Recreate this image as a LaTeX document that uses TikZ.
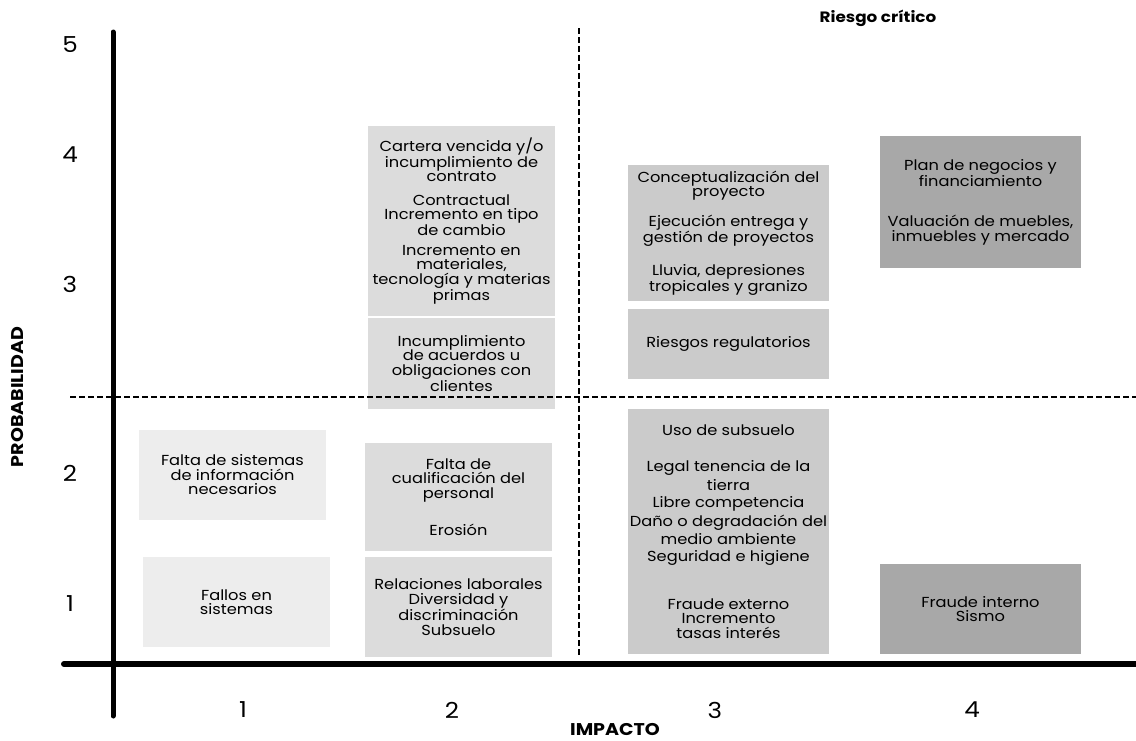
\documentclass[tikz,border=0pt]{standalone}
\usepackage{fontspec}
\setmainfont{Poppins}[FakeStretch=1.12]
\usepackage{tikz}
\usetikzlibrary{positioning}

\definecolor{nivelbajo}{HTML}{EDEDED}
\definecolor{nivelmedio}{HTML}{DCDCDC}
\definecolor{nivelalto}{HTML}{CBCBCB}
\definecolor{nivelcritico}{HTML}{A8A8A8}

\begin{document}
\begin{tikzpicture}[x=1pt,y=-1pt,
	riskbox/.style={inner sep=0pt,align=center,font=\fontsize{14.5}{14.5}\selectfont},
	ticklabel/.style={font=\fontsize{22}{22}\selectfont},
	axistitle/.style={font=\bfseries\fontsize{17}{17}\selectfont}]
	\useasboundingbox (0,0) rectangle (1136,740);
	% cuadros de riesgo
	\node[riskbox,fill=nivelbajo,minimum width=187pt,minimum height=90pt] (sistemas) at (232.5,475) {Falta de sistemas\\de información\\necesarios};
	\node[riskbox,fill=nivelbajo,minimum width=187pt,minimum height=90pt] (fallos) at (236.5,602) {Fallos en\\sistemas};
	\node[riskbox,fill=nivelmedio,minimum width=187pt,minimum height=190pt] (cartera) at (461.5,221) {Cartera vencida y/o\\incumplimiento de\\contrato\\[9pt]Contractual\\Incremento en tipo\\de cambio\\[5pt]Incremento en\\materiales,\\tecnología y materias\\primas};
	\node[riskbox,fill=nivelmedio,minimum width=187pt,minimum height=91pt] (acuerdos) at (461.5,363.5) {Incumplimiento\\de acuerdos u\\obligaciones con\\clientes};
	\node[riskbox,fill=nivelmedio,minimum width=187pt,minimum height=108pt] (cualificacion) at (458.5,497) {Falta de\\cualificación del\\personal\\[21pt]Erosión};
	\node[riskbox,fill=nivelmedio,minimum width=187pt,minimum height=100pt] (laborales) at (458.5,607) {Relaciones laborales\\Diversidad y\\discriminación\\Subsuelo};
	\node[riskbox,fill=nivelalto,minimum width=201pt,minimum height=136pt] (proyecto) at (728.5,233) {Conceptualización del\\proyecto\\[13pt]Ejecución entrega y\\gestión de proyectos\\[17pt]Lluvia, depresiones\\tropicales y granizo};
	\node[riskbox,fill=nivelalto,minimum width=201pt,minimum height=70pt] (regulatorios) at (728.5,344) {Riesgos regulatorios};
	\node[riskbox,fill=nivelalto,minimum width=201pt,minimum height=245pt] (subsuelo) at (728.5,531.5) {Uso de subsuelo\\[22pt]Legal tenencia de la\\[2.5pt]tierra\\[2.5pt]Libre competencia\\[2.5pt]Daño o degradación del\\[2.5pt]medio ambiente\\[2.5pt]Seguridad e higiene\\[32pt]Fraude externo\\Incremento\\tasas interés};
	\node[riskbox,fill=nivelcritico,minimum width=201pt,minimum height=132pt] (negocios) at (980.5,202) {Plan de negocios y\\financiamiento\\[26pt]Valuación de muebles,\\inmuebles y mercado};
	\node[riskbox,fill=nivelcritico,minimum width=201pt,minimum height=90pt] (fraude) at (980.5,609) {Fraude interno\\Sismo};
	% divisiones
	\draw[dashed,line width=1.2pt,dash pattern=on 6pt off 3pt] (579,28) -- (579,657);
	\draw[dashed,line width=1.2pt,dash pattern=on 6pt off 3pt] (70,397) -- (1136,397);
	% ejes
	\coordinate (origen) at (113,664);
	\draw[line width=5pt,line cap=round] (113,32) -- (113,716);
	\draw[line width=6pt,line cap=round] (64,664) -- (1140,664);
	\foreach \y/\val in {45/5,155/4,284/3,473/2,604/1}
		\node[ticklabel] (p\val) at (70,\y) {\val};
	\foreach \x/\val in {243/1,452/2,715/3,972/4}
		\node[ticklabel] (i\val) at (\x,710) {\val};
	\node[axistitle] (impacto) at (615,729) {IMPACTO};
	\node[axistitle,rotate=90] (probabilidad) at (18,397) {PROBABILIDAD};
	\node[font=\bfseries\fontsize{15}{15}\selectfont] (critico) at (878,18) {Riesgo crítico};
\end{tikzpicture}
\end{document}
